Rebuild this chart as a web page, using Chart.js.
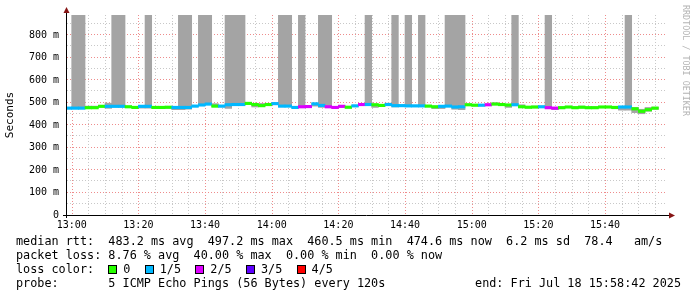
<!DOCTYPE html>
<html>
<head>
<meta charset="utf-8">
<script src="https://cdn.jsdelivr.net/npm/chart.js@4.4.1/dist/chart.umd.min.js"></script>
<style>
  html, body { margin: 0; padding: 0; background: #fff; }
  #wrap { position: relative; width: 697px; height: 297px; overflow: hidden; background: #fff; }
  #graph { position: absolute; left: 0; top: 0; }
  .line { position: absolute; left: 16px; font-family: "DejaVu Sans Mono", monospace; font-size: 11.8px; line-height: 14px; color: #000; white-space: pre; }
  .box { display: inline-block; width: 7px; height: 7px; border: 1px solid #000; vertical-align: -1px; margin-right: 6px; }
  .lbl { margin-right: 14.3px; }
  #rrd { position: absolute; left: 681px; top: 5px; writing-mode: vertical-rl; font-family: "DejaVu Sans Mono", monospace; font-size: 8.4px; color: #b4b4b4; white-space: pre; }
</style>
</head>
<body>
<div id="wrap">
  <canvas id="graph" width="697" height="297"></canvas>
  <div id="rrd">RRDTOOL / TOBI OETIKER</div>
  <div class="line" style="top:234px">median rtt:  483.2 ms avg  497.2 ms max  460.5 ms min  474.6 ms now  6.2 ms sd  78.4   am/s</div>
  <div class="line" style="top:248px">packet loss: 8.76 % avg  40.00 % max  0.00 % min  0.00 % now</div>
  <div class="line" id="lossLine" style="top:262px">loss color:  </div>
  <div class="line" style="top:276px">probe:       5 ICMP Echo Pings (56 Bytes) every 120s</div>
  <div class="line" style="top:276px;left:auto;right:16px">end: Fri Jul 18 15:58:42 2025</div>
</div>
<script>
// 2-minute steps, first one starts at 12:58 (minutes relative to 13:00)
const stepStart = -2;
const stepLen = 2;

// median rtt per step (ms)
const median = [
  475, 475, 475, 477, 477, 483, 483, 483, 483, 481,
  478, 483, 483, 478, 478, 479, 478, 478, 478, 484,
  489, 493, 484, 484, 490, 491, 491, 496, 491, 486,
  491, 495, 484, 484, 478, 481, 482, 494, 487, 481,
  478, 483, 479, 485, 491, 491, 490, 487, 491, 486,
  486, 485, 485, 485, 484, 481, 483, 484, 480, 481,
  490, 488, 488, 490, 493, 491, 489, 490, 481, 479,
  480, 481, 477, 475, 477, 480, 477, 479, 477, 477,
  480, 480, 478, 480, 480, 472, 461, 468, 475
];

// lost pings out of 5 per step
const loss = [
  1, 1, 1, 0, 0, 0, 1, 1, 1, 0,
  0, 1, 1, 0, 0, 0, 1, 1, 1, 1,
  1, 1, 0, 1, 1, 1, 1, 0, 0, 0,
  0, 1, 1, 1, 1, 2, 2, 1, 1, 2,
  2, 2, 0, 1, 2, 1, 0, 0, 1, 1,
  1, 1, 1, 1, 0, 0, 1, 1, 1, 1,
  0, 0, 1, 2, 0, 0, 0, 1, 0, 0,
  0, 1, 2, 2, 0, 0, 0, 0, 0, 0,
  0, 0, 0, 1, 1, 0, 0, 0, 0
];

// smoke (min / max ping) per step, 900 = off the top of the graph
const smokeLo = [
  472, 472, 472, 475, 475, 480, 474, 480, 480, 478,
  476, 475, 475, 475, 475, 474, 468, 468, 470, 481,
  486, 490, 481, 480, 474, 488, 488, 493, 480, 483,
  488, 492, 481, 481, 475, 478, 479, 484, 478, 478,
  475, 478, 476, 482, 488, 488, 478, 484, 488, 480,
  483, 482, 482, 482, 481, 473, 473, 481, 470, 468,
  486, 485, 485, 487, 490, 488, 478, 487, 478, 476,
  476, 478, 474, 468, 474, 477, 474, 476, 474, 474,
  477, 477, 472, 466, 466, 455, 450, 461, 470
];
const smokeHi = [
  478, 900, 900, 484, 484, 486, 497, 900, 900, 484,
  481, 486, 900, 481, 482, 482, 481, 900, 900, 487,
  900, 900, 495, 487, 900, 900, 900, 499, 494, 496,
  494, 498, 900, 900, 481, 900, 485, 497, 900, 900,
  481, 486, 482, 488, 494, 900, 493, 490, 497, 900,
  489, 900, 488, 900, 487, 484, 486, 900, 900, 900,
  493, 491, 491, 493, 499, 494, 492, 900, 490, 482,
  484, 484, 900, 478, 480, 483, 480, 484, 480, 480,
  483, 483, 481, 483, 900, 478, 470, 478, 479
];

const lossColors = ['#26ff00', '#00b8ff', '#dd00ff', '#5e00ff', '#ff0000'];
const lossLabels = ['0', '1/5', '2/5', '3/5', '4/5'];

const yGrid = [0, 50, 100, 150, 200, 250, 300, 350, 400, 450, 500, 550, 600, 650, 700, 750, 800, 850];
const xGrid = [0, 5, 10, 15, 20, 25, 30, 35, 40, 45, 50, 55, 60, 65, 70, 75, 80, 85, 90,
               95, 100, 105, 110, 115, 120, 125, 130, 135, 140, 145, 150, 155, 160, 165, 170, 175];
const xLabels = ['13:00', '13:20', '13:40', '14:00', '14:20', '14:40', '15:00', '15:20', '15:40'];

// legend boxes
const lossLine = document.getElementById('lossLine');
lossLabels.forEach((txt, i) => {
  const b = document.createElement('span');
  b.className = 'box';
  b.style.background = lossColors[i];
  lossLine.appendChild(b);
  const l = document.createElement('span');
  l.className = 'lbl';
  l.textContent = txt;
  lossLine.appendChild(l);
});

const xs = median.map((_, i) => stepStart + stepLen * i + stepLen / 2);
const mono = '"DejaVu Sans Mono", monospace';
const majorCol = 'rgb(238, 140, 140)';
const minorCol = 'rgb(200, 200, 200)';

// dotted rrdtool style grid, drawn under the data
const dottedGrid = {
  id: 'dottedGrid',
  beforeDatasetsDraw(chart) {
    const c = chart.ctx;
    const a = chart.chartArea;
    const sx = chart.scales.x, sy = chart.scales.y;
    c.save();
    c.lineWidth = 1;
    c.setLineDash([1, 2]);
    yGrid.forEach(v => {
      if (v === 0) return;
      const y = Math.round(sy.getPixelForValue(v)) - 0.5;
      c.strokeStyle = v % 100 === 0 ? majorCol : minorCol;
      c.beginPath();
      c.moveTo(a.left, y);
      c.lineTo(a.right, y);
      c.stroke();
    });
    xGrid.forEach(v => {
      const x = Math.round(sx.getPixelForValue(v)) + 0.5;
      c.strokeStyle = v % 20 === 0 ? majorCol : minorCol;
      c.beginPath();
      c.moveTo(x, a.top);
      c.lineTo(x, a.bottom);
      c.stroke();
    });
    c.restore();
  }
};

const axesArrows = {
  id: 'axesArrows',
  afterDraw(chart) {
    const c = chart.ctx;
    const a = chart.chartArea;
    c.save();
    c.strokeStyle = '#000';
    c.lineWidth = 1;
    c.beginPath();
    c.moveTo(a.left - 0.5, a.bottom + 3);
    c.lineTo(a.left - 0.5, a.top - 4);
    c.moveTo(a.left - 4, a.bottom + 0.5);
    c.lineTo(a.right + 3, a.bottom + 0.5);
    c.stroke();
    c.fillStyle = '#861515';
    c.beginPath();
    c.moveTo(a.left - 0.5, a.top - 8);
    c.lineTo(a.left - 3.5, a.top - 2);
    c.lineTo(a.left + 2.5, a.top - 2);
    c.closePath();
    c.fill();
    c.beginPath();
    c.moveTo(a.right + 8, a.bottom + 0.5);
    c.lineTo(a.right + 2, a.bottom - 2.5);
    c.lineTo(a.right + 2, a.bottom + 3.5);
    c.closePath();
    c.fill();
    c.restore();
  }
};

const ctx = document.getElementById('graph').getContext('2d');

const smokeChart = new Chart(ctx, {
  type: 'bar',
  data: {
    datasets: [
      {
        label: 'median rtt',
        data: median.map((m, i) => ({ x: xs[i], y: [m - 5.5, m + 5.5] })),
        backgroundColor: loss.map(l => lossColors[l]),
        order: 0
      },
      {
        label: 'smoke',
        data: smokeLo.map((lo, i) => ({ x: xs[i], y: [lo, smokeHi[i]] })),
        backgroundColor: '#a4a4a4',
        order: 1
      }
    ]
  },
  options: {
    responsive: false,
    animation: false,
    events: [],
    layout: { padding: { left: 0, right: 30, top: 15, bottom: 0 } },
    plugins: {
      legend: { display: false },
      tooltip: { enabled: false }
    },
    datasets: {
      bar: { grouped: false, categoryPercentage: 1, barPercentage: 1, borderWidth: 0 }
    },
    scales: {
      x: {
        type: 'linear',
        min: -1.41,
        max: 178.59,
        offset: false,
        afterBuildTicks: s => { s.ticks = xGrid.map(v => ({ value: v })); },
        afterFit: s => { s.height = 82; },
        grid: { display: false, offset: false, drawTicks: false },
        border: { display: false },
        ticks: {
          autoSkip: false,
          maxRotation: 0,
          padding: 4,
          color: '#000',
          font: { family: mono, size: 10 },
          callback: v => v % 20 === 0 ? xLabels[v / 20] : ''
        }
      },
      y: {
        min: 0,
        max: 888.9,
        afterBuildTicks: s => { s.ticks = yGrid.map(v => ({ value: v })); },
        afterFit: s => { s.width = 67; },
        grid: { display: false, drawTicks: false },
        border: { display: false },
        title: {
          display: true,
          text: 'Seconds',
          color: '#000',
          font: { family: mono, size: 11 },
          padding: { top: 4, bottom: 0 }
        },
        ticks: {
          padding: 8,
          color: '#000',
          font: { family: mono, size: 10 },
          callback: v => v % 100 !== 0 ? '' : (v === 0 ? '0' : v + ' m')
        }
      }
    }
  },
  plugins: [dottedGrid, axesArrows]
});
</script>
</body>
</html>
